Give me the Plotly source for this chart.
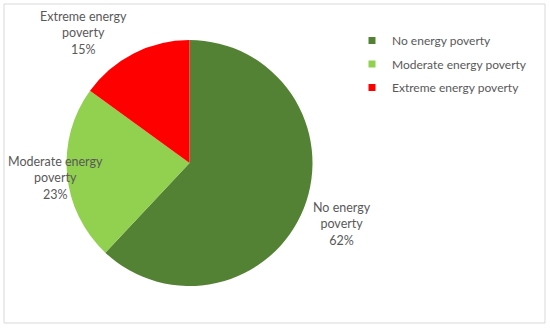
import plotly.graph_objects as go

categories = ["No energy poverty", "Moderate energy poverty", "Extreme energy poverty"]
shares = [62, 23, 15]
colors = ["#548235", "#92D050", "#FF0000"]

# label anchor positions in pixels (layout only)
label_px = [(342, 224), (55, 178), (83, 33)]

W, H = 550, 328
FONT = "Lato"
TXT = "#595959"

cx, cy, r = 189.5, 163, 123

fig = go.Figure()
fig.add_trace(go.Pie(
    labels=categories, values=shares, sort=False, direction="clockwise", rotation=0,
    marker=dict(colors=colors, line=dict(width=0)),
    textinfo="none", showlegend=False, hoverinfo="label+percent",
    domain=dict(x=[(cx - r) / W, (cx + r) / W], y=[1 - (cy + r) / H, 1 - (cy - r) / H]),
))

# legend entries (square markers) built from the categories
for i, (cat, col) in enumerate(zip(categories, colors)):
    fig.add_trace(go.Scatter(
        x=[None], y=[None], mode="markers", name=cat,
        marker=dict(symbol="square", size=7, color=col),
        legendgroup=f"g{i}", showlegend=True, hoverinfo="skip",
    ))

annotations = []
for cat, val, (px, py) in zip(categories, shares, label_px):
    words = cat.split(" ")
    text = " ".join(words[:-1]) + "<br>" + words[-1] + "<br>" + f"{val}%"
    annotations.append(dict(
        x=px / W, y=1 - py / H, xref="paper", yref="paper", text=text,
        showarrow=False, xanchor="center", yanchor="middle", align="center",
        font=dict(family=FONT, size=12.5, color=TXT),
    ))

fig.update_layout(
    width=W, height=H, margin=dict(l=0, r=0, t=0, b=0),
    paper_bgcolor="white", plot_bgcolor="white",
    xaxis=dict(visible=False), yaxis=dict(visible=False),
    font=dict(family=FONT, size=12, color=TXT),
    legend=dict(x=352 / W, y=1 - 26 / H, xanchor="left", yanchor="top",
                font=dict(family=FONT, size=12, color=TXT),
                tracegroupgap=4.5, bgcolor="rgba(0,0,0,0)"),
    annotations=annotations,
    shapes=[dict(type="rect", xref="paper", yref="paper",
                 x0=4 / W, x1=545 / W, y0=1 - 323 / H, y1=1 - 4 / H,
                 line=dict(color="#D9D9D9", width=1), fillcolor="rgba(0,0,0,0)")],
)

fig.write_html("out.html", config={"displayModeBar": False},
               post_script="document.body.style.margin='0';")
